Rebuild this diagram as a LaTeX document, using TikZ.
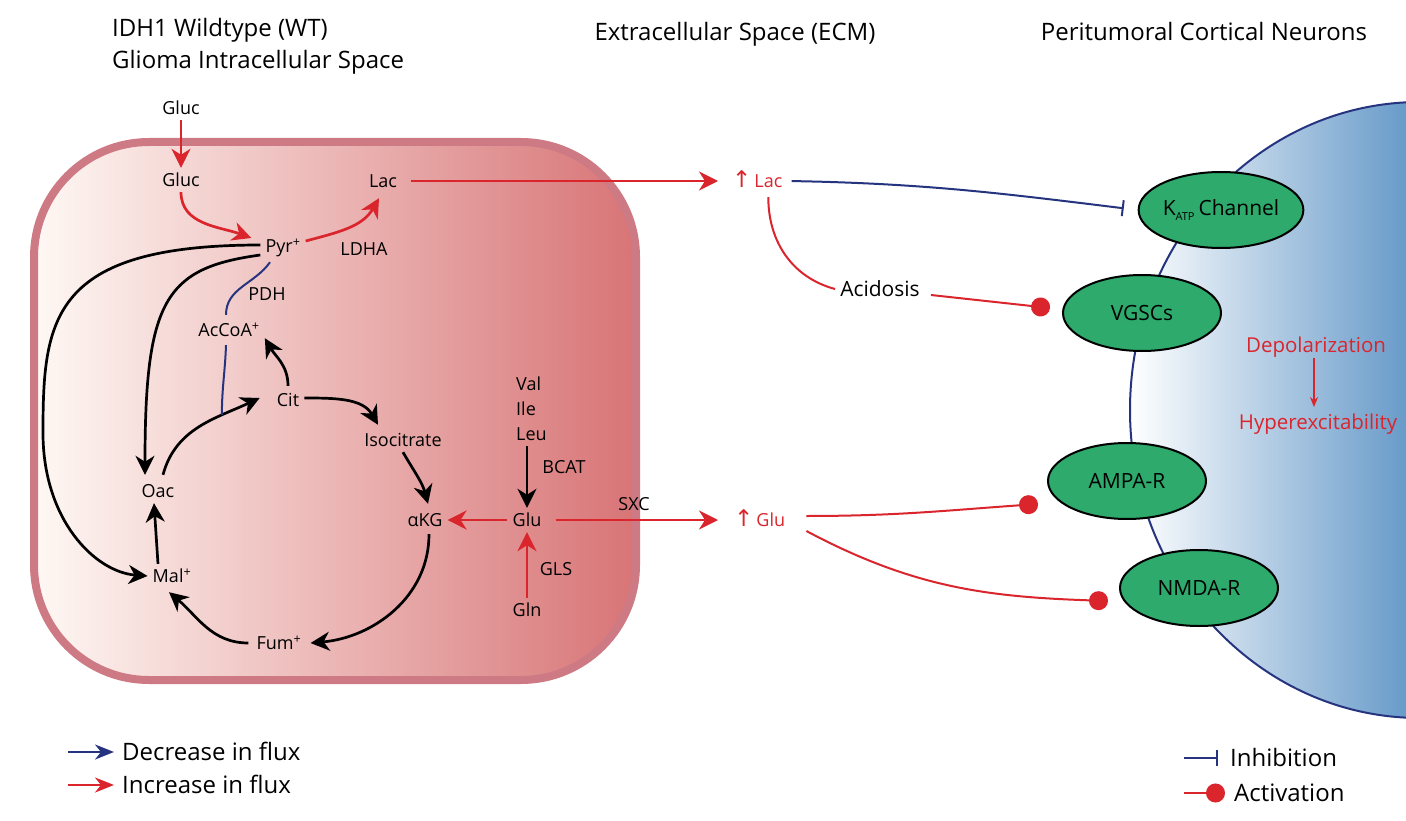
\documentclass[tikz,border=0pt]{standalone}
\usepackage{fontspec}
\setmainfont{Open Sans}
\newfontfamily\symf{DejaVu Sans}
\usetikzlibrary{arrows.meta,shapes.geometric}
\definecolor{cred}{RGB}{218,37,45}
\definecolor{cnavy}{RGB}{38,52,128}
\definecolor{cgreen}{RGB}{45,170,108}
\definecolor{nblue}{RGB}{104,155,201}
\definecolor{cellL}{RGB}{254,248,244}
\definecolor{cellR}{RGB}{216,116,118}
\definecolor{cellB}{RGB}{206,122,132}
\begin{document}
\begin{tikzpicture}[x=1pt,y=-1pt,
  t/.style={font=\fontsize{18}{20}\selectfont, inner sep=5pt, text height=13.5pt, text depth=0.5pt},
  tr/.style={t, text=cred},
  big/.style={font=\fontsize{24}{28}\selectfont, inner sep=2pt, text height=17pt, text depth=0pt},
  rec/.style={ellipse, draw=black, line width=2pt, fill=cgreen, minimum width=158pt, minimum height=76pt, inner sep=0pt, font=\fontsize{21}{24}\selectfont},
  blk/.style={draw=black, line width=2.7pt, -{Stealth[length=19pt,width=19pt,inset=6pt]}},
  redA/.style={draw=cred, line width=2.7pt, -{Stealth[length=19pt,width=19pt,inset=6pt]}},
  redL/.style={draw=cred, line width=2pt},
  act/.style={redL, -{Circle[length=19pt,width=19pt]}},
  inh/.style={draw=cnavy, line width=2pt, -{Bar[width=16pt]}},
  pdhline/.style={draw=cnavy, line width=2pt},
]
\useasboundingbox (0,0) rectangle (1406,821);
\fill[white] (0,0) rectangle (1406,821);

% ---- glioma cell
\draw[line width=8pt, draw=cellB, left color=cellL, right color=cellR, rounded corners=115pt] (34,142) rectangle (636,680);

% ---- neuron
\begin{scope}
  \clip (1420,410) ellipse [x radius=290pt, y radius=308pt];
  \shade[left color=white, right color=nblue] (1130,90) rectangle (1406,730);
\end{scope}
\draw[cnavy, line width=2pt] (1420,410) ellipse [x radius=290pt, y radius=308pt];

% ---- titles
\node[big, anchor=west] (t1) at (110,28) {IDH1 Wildtype (WT)};
\node[big, anchor=west] (t2) at (110,60) {Glioma Intracellular Space};
\node[big] (t3) at (735,32) {Extracellular Space (ECM)};
\node[big] (t4) at (1204,32) {Peritumoral Cortical Neurons};

% ---- metabolites
\node[t] (gluc0) at (181,108) {Gluc};
\node[t] (gluc) at (181,180) {Gluc};
\node[t] (lac) at (383,181) {Lac};
\node[t] (pyr) at (283,246) {Pyr\textsuperscript{+}};
\node[t] (ldha) at (364,249) {LDHA};
\node[t] (pdh) at (267,294) {PDH};
\node[t] (accoa) at (229,330) {AcCoA\textsuperscript{+}};
\node[t] (cit) at (288,400) {Cit};
\node[t] (iso) at (403,440) {Isocitrate};
\node[t] (oac) at (158,491) {Oac};
\node[t] (akg) at (425,520) {αKG};
\node[t] (mal) at (172,576) {Mal\textsuperscript{+}};
\node[t] (fum) at (279,643) {Fum\textsuperscript{+}};
\node[t, anchor=west] (val) at (511,384) {Val};
\node[t, anchor=west] (ile) at (511,409) {Ile};
\node[t, anchor=west] (leu) at (511,434) {Leu};
\node[t] (bcat) at (564,467) {BCAT};
\node[t] (glu) at (527,520) {Glu};
\node[t] (gls) at (556,569) {GLS};
\node[t] (gln) at (527,610) {Gln};
\node[t] (sxc) at (634,504) {SXC};

% ---- ECM
\node[tr, anchor=west] (lacE) at (727,181) {{\symf\fontsize{23}{24}\selectfont ↑}\,Lac};
\node[tr, anchor=west] (gluE) at (729,520) {{\symf\fontsize{23}{24}\selectfont ↑}\,Glu};
\node[t, font=\fontsize{21}{24}\selectfont, text height=15pt] (acid) at (880,289) {Acidosis};

% ---- receptors
\node[rec] (katp) at (1221,210) {K\raisebox{-0.4ex}{\fontsize{11}{12}\selectfont ATP}\hspace{4pt}Channel};
\node[rec] (vgsc) at (1142,313) {VGSCs};
\node[rec] (ampa) at (1127,481) {AMPA-R};
\node[rec] (nmda) at (1199,588) {NMDA-R};

\node[tr, font=\fontsize{20.5}{24}\selectfont, text height=15pt] (depol) at (1316,345) {Depolarization};
\node[tr, font=\fontsize{20.5}{24}\selectfont, text height=15pt] (hyper) at (1318,422) {Hyperexcitability};
\draw[cred, line width=1.5pt, -{Stealth[length=10pt,width=8pt]}, shorten <=0pt, shorten >=2pt] ([xshift=-2pt]depol.south) -- ([xshift=-4pt]hyper.north);

% ---- red flux arrows in cell
\draw[redA] (gluc0) -- (gluc);
\draw[redA] (gluc.south) to[out=-90,in=160] ([xshift=-9pt,yshift=8pt]pyr.west);
\draw[redA] ([yshift=5pt]pyr.east) to[out=15,in=-120] ([xshift=-4pt,yshift=-5pt]lac.south);
\draw[redA] (glu.west) -- (akg.east);
\draw[redA] (gln.north) -- (glu.south);
\draw[redA, line width=2.3pt, shorten <=9pt, shorten >=9pt] (lac.east) -- (lacE.west);
\draw[redA, line width=2.3pt, shorten <=9pt, shorten >=11pt] (glu.east) -- (gluE.west);

% ---- black arrows
\draw[blk] (glu.north |- leu.south) -- (glu.north);
\draw[blk] ([yshift=1pt]pyr.west) .. controls (50,245) and (43,320) .. (43,433) .. controls (43,520) and (95,572) .. (mal.west);
\draw[blk] ([yshift=-9pt]pyr.west) .. controls (165,268) and (145,300) .. ([xshift=-13pt,yshift=4pt]oac.north);
\draw[blk] ([xshift=5pt,yshift=4pt]oac.north) to[out=75,in=205] coordinate[pos=0.7] (pdhE) ([xshift=-12pt,yshift=2pt]cit.west);
\draw[blk] ([yshift=2pt]cit.north) to[out=90,in=-60] ([yshift=4pt]accoa.south east);
\draw[blk] ([yshift=2pt]cit.east) to[out=0,in=120] ([xshift=-25pt,yshift=3pt]iso.north);
\draw[blk] (iso.south) to[out=-60,in=105] ([xshift=3pt,yshift=4pt]akg.north);
\draw[blk] ([xshift=4pt,yshift=-2pt]akg.south) to[out=-90,in=5] ([xshift=4pt]fum.east);
\draw[blk] ([xshift=-3pt]fum.west) to[out=180,in=-40] ([xshift=-3pt,yshift=-4pt]mal.south);
\draw[blk] ([xshift=-14pt]mal.north) -- ([xshift=-4pt]oac.south);

% ---- PDH (decreased flux)
\draw[pdhline] ([xshift=-13pt,yshift=-4pt]pyr.south) to[out=-125,in=90] ([xshift=-3pt,yshift=3pt]accoa.north);
\draw[pdhline] ([xshift=-3pt,yshift=-3pt]accoa.south) to[out=-92,in=90] (pdhE);

% ---- ECM interactions
\draw[inh, shorten <=4pt, shorten >=14pt] (lacE.east) to[out=-1,in=173] (katp.west);
\draw[redL] ([xshift=11pt,yshift=-4pt]lacE.south) to[out=-90,in=165] (acid.west);
\draw[act] ([xshift=6pt,yshift=-6pt]acid.east) -- ([xshift=-12pt,yshift=5pt]vgsc.west);
\draw[act] ([xshift=16pt,yshift=4pt]gluE.east) to[out=0,in=184] ([xshift=-9pt,yshift=-23pt]ampa.west);
\draw[act] ([xshift=16pt,yshift=-11pt]gluE.east) to[out=-28,in=178] ([xshift=-11pt,yshift=-13pt]nmda.west);

% ---- legends
\node[big, anchor=west] (dec) at (120,752) {Decrease in flux};
\node[big, anchor=west] (inc) at (120,785) {Increase in flux};
\draw[draw=cnavy, line width=2pt, -{Stealth[length=19pt,width=15pt,inset=6pt]}] ([xshift=-52pt]dec.west) coordinate (d0) -- ([xshift=-6pt]dec.west);
\draw[draw=cred, line width=2pt, -{Stealth[length=19pt,width=15pt,inset=6pt]}] ([xshift=-52pt]inc.west) coordinate (i0) -- ([xshift=-6pt]inc.west);
\node[big, anchor=west] (inhl) at (1228,758) {Inhibition};
\node[big, anchor=west] (actl) at (1232,793) {Activation};
\draw[inh] ([xshift=-44pt]inhl.west) coordinate (h0) -- ([xshift=-10pt]inhl.west);
\draw[act] ([xshift=-48pt]actl.west) coordinate (a0) -- ([xshift=-7pt]actl.west);
\end{tikzpicture}
\end{document}
